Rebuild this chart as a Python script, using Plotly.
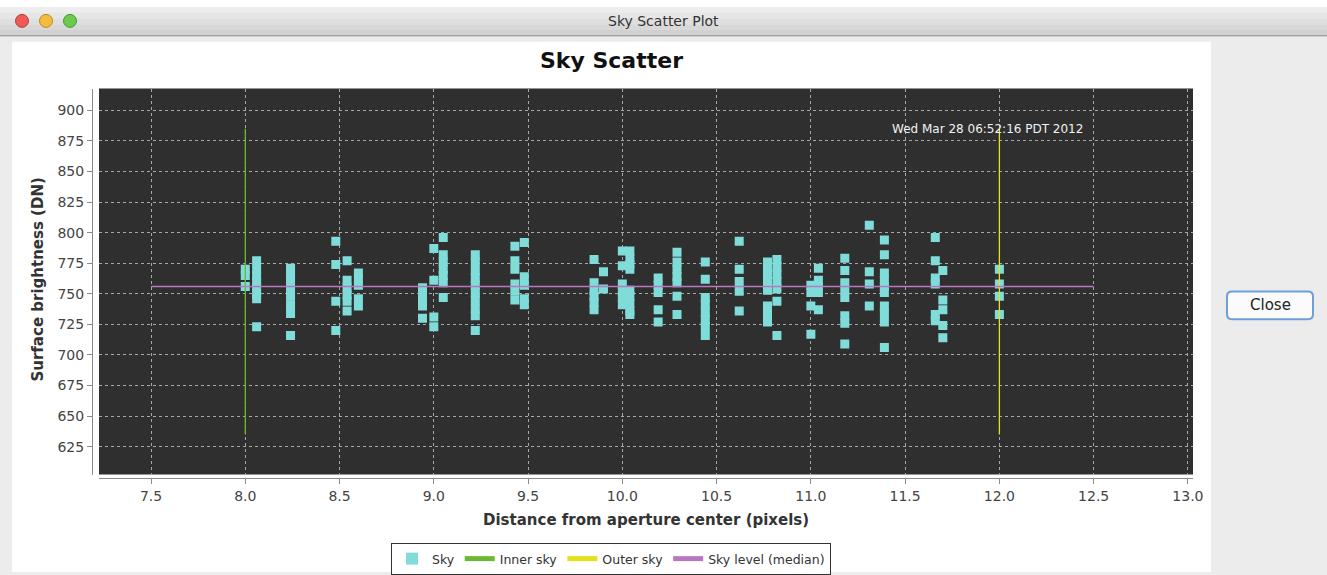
import plotly.graph_objects as go

W, H = 1327, 575

# ---------------- data ----------------
sky_x = (
    [8.00] * 3 + [8.06] * 8 + [8.24] * 8 + [8.48] * 4 + [8.54] * 6 + [8.60] * 5 +
    [8.94] * 5 + [9.00] * 4 + [9.05] * 7 + [9.22] * 10 + [9.43] * 6 + [9.48] * 5 +
    [9.85] * 6 + [9.90] * 2 + [10.00] * 6 + [10.04] * 9 + [10.19] * 5 + [10.29] * 7 +
    [10.44] * 8 + [10.62] * 5 + [10.77] * 8 + [10.82] * 7 + [11.00] * 4 + [11.04] * 5 +
    [11.18] * 8 + [11.31] * 4 + [11.39] * 10 + [11.66] * 6 + [11.70] * 5 + [12.00] * 4
)
sky_y = [
    770, 765, 756,
    777, 770, 765, 760, 755, 750, 746, 723,
    771, 765, 759, 753, 748, 741, 734, 716,
    793, 774, 744, 720,
    777, 761, 755, 749, 744, 736,
    767, 762, 757, 746, 740,
    755, 749, 744, 740, 730,
    787, 761, 731, 723,
    796, 782, 776, 770, 765, 759, 747,
    782, 776, 769, 763, 757, 751, 745, 738, 732, 720,
    789, 777, 770, 758, 752, 745,
    792, 764, 757, 746, 741,
    778, 759, 753, 748, 743, 737,
    768, 754,
    785, 773, 758, 752, 747, 741,
    785, 779, 774, 770, 753, 748, 742, 736, 733,
    763, 757, 751, 737, 727,
    784, 776, 770, 764, 759, 748, 733,
    776, 762, 747, 741, 735, 729, 723, 716,
    793, 770, 760, 752, 736,
    776, 770, 764, 758, 753, 740, 734, 727,
    778, 772, 766, 760, 754, 744, 716,
    757, 751, 740, 717,
    771, 761, 756, 751, 737,
    779, 769, 759, 753, 747, 732, 726, 709,
    806, 768, 758, 740,
    794, 782, 767, 761, 756, 751, 740, 734, 727, 706,
    796, 777, 763, 758, 733, 728,
    769, 745, 737, 724, 714,
    770, 758, 748, 733,
]
inner_sky_x = [8.0, 8.0]
outer_sky_x = [12.0, 12.0]
sky_line_y = [635, 885]
median_x = [7.5, 12.5]
median_y = [756, 756]
x_ticks = [7.5, 8.0, 8.5, 9.0, 9.5, 10.0, 10.5, 11.0, 11.5, 12.0, 12.5, 13.0]
y_ticks = [625, 650, 675, 700, 725, 750, 775, 800, 825, 850, 875, 900]
timestamp = "Wed Mar 28 06:52:16 PDT 2012"

FONT = "DejaVu Sans"


def px(p):
    return p / W


def py(p):
    return 1 - p / H


fig = go.Figure()
fig.add_trace(go.Scatter(
    x=sky_x, y=sky_y, mode="markers", name="Sky",
    marker=dict(symbol="square", size=9, color="#80dcd8", line=dict(width=0)),
))
fig.add_trace(go.Scatter(x=inner_sky_x, y=sky_line_y, mode="lines", name="Inner sky",
                         line=dict(color="#6cb832", width=1.3)))
fig.add_trace(go.Scatter(x=outer_sky_x, y=sky_line_y, mode="lines", name="Outer sky",
                         line=dict(color="#e4e21a", width=1.3)))
fig.add_trace(go.Scatter(x=median_x, y=median_y, mode="lines", name="Sky level (median)",
                         line=dict(color="#b878c0", width=1.3)))

shapes = []
# white strip at very top
shapes.append(dict(type="rect", xref="paper", yref="paper", layer="below",
                   x0=0, x1=1, y0=py(7), y1=1, fillcolor="white", line=dict(width=0)))
# window title bar (gradient approximated with bands)
bands = ["#ededed", "#e6e6e6", "#dfdfdf", "#d8d8d8", "#d1d1d1"]
top, bottom = 7, 36
step = (bottom - top) / len(bands)
for i, c in enumerate(bands):
    shapes.append(dict(type="rect", xref="paper", yref="paper", layer="below",
                       x0=0, x1=1, y0=py(top + (i + 1) * step), y1=py(top + i * step),
                       fillcolor=c, line=dict(width=0)))
shapes.append(dict(type="line", xref="paper", yref="paper", x0=0, x1=1,
                   y0=py(36), y1=py(36), line=dict(color="#8a8a8a", width=1)))
# traffic lights
for cx, col, edge in [(22, "#ee5a55", "#b63a36"), (46, "#f3bc3c", "#b98a20"), (70, "#6ccb4f", "#3f9a2c")]:
    shapes.append(dict(type="circle", xref="paper", yref="paper",
                       x0=px(cx - 6.5), x1=px(cx + 6.5), y0=py(21 + 6.5), y1=py(21 - 6.5),
                       fillcolor=col, line=dict(color=edge, width=1)))
# white chart panel
shapes.append(dict(type="rect", xref="paper", yref="paper", layer="below",
                   x0=px(12), x1=px(1211), y0=0, y1=py(42),
                   fillcolor="white", line=dict(width=0)))
# dark plot area background
shapes.append(dict(type="rect", xref="paper", yref="paper", layer="below",
                   x0=px(99), x1=px(1193), y0=py(477), y1=py(89),
                   fillcolor="#2f2f2f", line=dict(width=0)))
# close button
bx0, bx1, by0, by1, r = 1227, 1313, 293, 321, 5
path = (f"M {px(bx0 + r)} {py(by0)} L {px(bx1 - r)} {py(by0)} "
        f"Q {px(bx1)} {py(by0)} {px(bx1)} {py(by0 + r)} L {px(bx1)} {py(by1 - r)} "
        f"Q {px(bx1)} {py(by1)} {px(bx1 - r)} {py(by1)} L {px(bx0 + r)} {py(by1)} "
        f"Q {px(bx0)} {py(by1)} {px(bx0)} {py(by1 - r)} L {px(bx0)} {py(by0 + r)} "
        f"Q {px(bx0)} {py(by0)} {px(bx0 + r)} {py(by0)} Z")
shapes.append(dict(type="path", xref="paper", yref="paper", path=path,
                   fillcolor="#fbfbfb", line=dict(color="#6f9fd8", width=2)))


def ann(text, x, y, size, color="#333333", **kw):
    d = dict(text=text, xref="paper", yref="paper", x=px(x), y=py(y),
             xanchor="center", yanchor="middle", showarrow=False,
             font=dict(family=FONT, size=size, color=color))
    d.update(kw)
    return d


annotations = [
    ann("Sky Scatter Plot", 663, 21, 14),
    ann("<b>Sky Scatter</b>", 611, 61, 22, "#111111"),
    ann("<b>Distance from aperture center (pixels)</b>", 646, 523, 15),
    ann("<b>Surface brightness (DN)</b>", 38, 281, 15, textangle=-90),
    ann("Close", 1270, 307, 15, "#222222"),
    dict(text=timestamp, xref="x", yref="y", x=12.455, y=884.5,
         xanchor="right", yanchor="middle",
         showarrow=False, font=dict(family=FONT, size=12, color="#f2f2f2")),
]

fig.update_layout(
    width=W, height=H,
    margin=dict(l=0, r=0, t=0, b=0),
    paper_bgcolor="#ececec",
    plot_bgcolor="#2f2f2f",
    showlegend=True,
    shapes=shapes,
    annotations=annotations,
    legend=dict(orientation="h", x=px(611), xanchor="center", y=py(546), yanchor="top",
                bgcolor="white", bordercolor="#333333", borderwidth=1,
                font=dict(family=FONT, size=12.5, color="#333333"),
                tracegroupgap=0, itemsizing="constant"),
    xaxis=dict(
        domain=[px(99), px(1193)], range=[7.224, 13.027],
        anchor="free", position=py(481),
        tickmode="array", tickvals=x_ticks, ticktext=[f"{v:.1f}" for v in x_ticks],
        showline=True, linecolor="#8a8a8a", linewidth=1,
        ticks="outside", ticklen=5, tickcolor="#8a8a8a",
        showgrid=True, gridcolor="#a8a8a8", gridwidth=1, griddash="3px,3px",
        zeroline=False, automargin=False,
        tickfont=dict(family=FONT, size=14, color="#444444"),
    ),
    yaxis=dict(
        domain=[py(477), py(89)], range=[602.2, 917.9],
        anchor="free", position=px(92),
        tickmode="array", tickvals=y_ticks,
        showline=True, linecolor="#8a8a8a", linewidth=1,
        ticks="outside", ticklen=5, tickcolor="#8a8a8a",
        showgrid=True, gridcolor="#a8a8a8", gridwidth=1, griddash="3px,3px",
        zeroline=False, automargin=False,
        tickfont=dict(family=FONT, size=14, color="#444444"),
    ),
)

fig.write_html(
    "out.html",
    config={"displayModeBar": False},
    post_script="document.body.style.margin='0px';document.body.style.overflow='hidden';",
)
